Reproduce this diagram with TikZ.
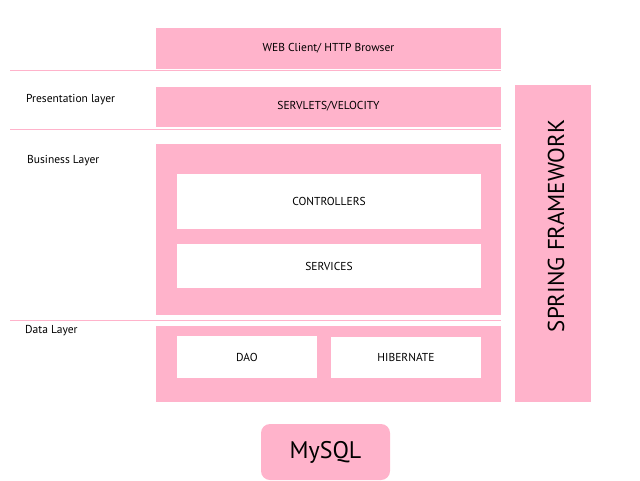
\documentclass[tikz,border=0pt]{standalone}
\usepackage{fontspec}
\setmainfont{PT Sans}
\usepackage{xcolor}
\definecolor{colorLayer}{HTML}{FFB3CB}
\colorlet{colorInner}{white}
\colorlet{colorSep}{colorLayer}
\usetikzlibrary{positioning}
\tikzset{
  layerbox/.style={rectangle, fill=colorLayer, inner sep=0pt, font=\fontsize{11.5}{13}\selectfont},
  innerbox/.style={rectangle, fill=colorInner, inner sep=0pt, font=\fontsize{11.5}{13}\selectfont},
  layerlabel/.style={anchor=west, inner sep=0pt, font=\fontsize{11.5}{13}\selectfont},
  sepline/.style={draw=colorSep, line width=1pt}
}

\begin{document}
\begin{tikzpicture}[x=1pt, y=-1pt]
\useasboundingbox (0,0) rectangle (640,480);
% layers
\node[layerbox, minimum width=345pt, minimum height=41pt] (web) at (328.5,48.5) {WEB Client/ HTTP Browser};
\node[layerbox, minimum width=345pt, minimum height=40pt] (servlets) at (328.5,106.5) {SERVLETS/VELOCITY};
\node[layerbox, minimum width=345pt, minimum height=171pt] (business) at (328.5,229.5) {};
\node[layerbox, minimum width=345pt, minimum height=76pt] (data) at (328.5,364) {};
\node[innerbox, minimum width=304pt, minimum height=55pt] (controllers) at (329,201.5) {CONTROLLERS};
\node[innerbox, minimum width=304pt, minimum height=44pt] (services) at (329,266) {SERVICES};
\node[innerbox, minimum width=140pt, minimum height=42pt] (dao) at (247,357) {DAO};
\node[innerbox, minimum width=150pt, minimum height=41pt] (hibernate) at (406,357.5) {HIBERNATE};
\node[layerbox, minimum width=76pt, minimum height=317pt] (spring) at (553,243.5) {};
\node[rotate=90, font=\fontsize{23}{26}\selectfont] (springtext) at (556,226) {SPRING FRAMEWORK};
\node[layerbox, rounded corners=9pt, minimum width=129pt, minimum height=56pt, font=\fontsize{24}{27}\selectfont] (mysql) at (325.5,452) {MySQL};
% separators
\draw[sepline] (10,70.8) -- (501,70.8);
\draw[sepline] (10,129) -- (501,129);
\draw[sepline] (10,320.5) -- (501,320.5);
% labels
\node[layerlabel] (presentation) at (26,99.5) {Presentation layer};
\node[layerlabel] (businesslabel) at (27,160.5) {Business Layer};
\node[layerlabel] (datalabel) at (25,330.5) {Data Layer};
\end{tikzpicture}
\end{document}
